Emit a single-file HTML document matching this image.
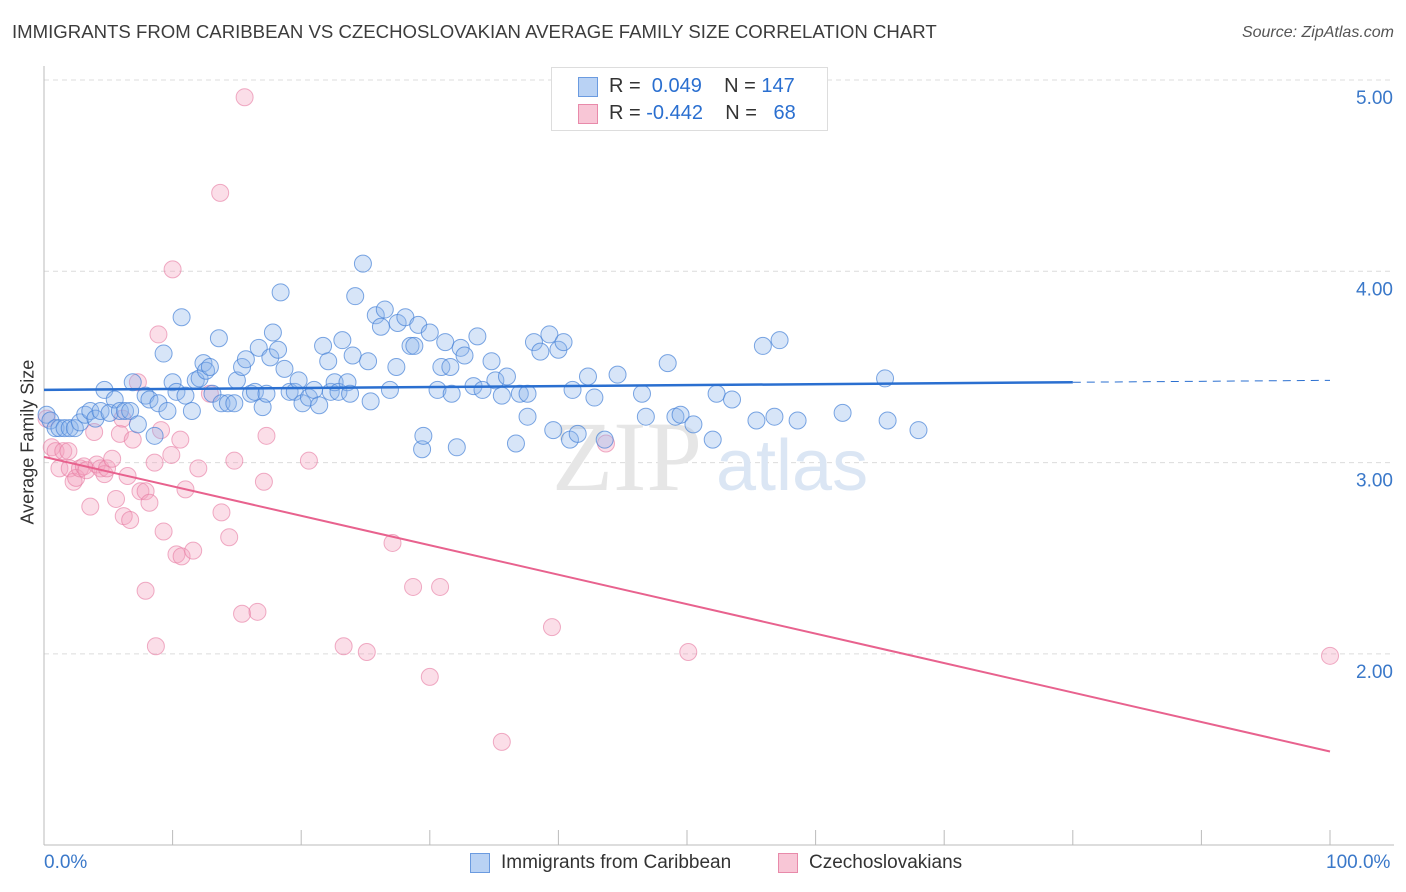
<!DOCTYPE html>
<html><head><meta charset="utf-8"><style>
body{margin:0;background:#fff;font-family:"Liberation Sans",sans-serif;}
#wrap{position:relative;width:1406px;height:892px;overflow:hidden}
.t{position:absolute;white-space:nowrap}
</style></head><body>
<div id="wrap">
<div class="t" style="left:12px;top:21px;font-size:18.6px;color:#3c3c3c">IMMIGRANTS FROM CARIBBEAN VS CZECHOSLOVAKIAN AVERAGE FAMILY SIZE CORRELATION CHART</div>
<div class="t" style="right:12px;top:24px;font-size:16px;color:#555;font-style:italic">Source: ZipAtlas.com</div>
<svg id="svg" width="1406" height="892" style="position:absolute;left:0;top:0"></svg>
</div>
<script>
const blueX=[0.2,0.5,0.9,1.2,1.6,2.0,2.4,2.8,3.2,3.6,4.0,4.4,4.7,5.1,5.5,5.9,6.3,6.7,6.9,7.3,7.9,8.2,8.6,8.9,9.3,9.6,10.0,10.3,10.7,11.0,11.5,11.8,12.1,12.4,12.6,12.9,13.1,13.6,13.8,14.3,14.8,15.0,15.4,15.7,16.1,16.4,16.7,17.0,17.3,17.6,17.8,18.2,18.4,18.7,19.1,19.5,19.8,20.1,20.6,21.0,21.4,21.7,22.1,22.3,22.6,22.9,23.2,23.6,23.8,24.0,24.2,24.8,25.2,25.4,25.8,26.2,26.5,26.9,27.4,27.5,28.1,28.5,28.8,29.1,29.4,29.5,30.0,30.6,30.9,31.2,31.6,31.7,32.1,32.4,32.7,33.4,33.7,34.1,34.8,35.1,35.6,36.0,36.7,37.0,37.6,37.6,38.1,38.6,39.3,39.6,40.0,40.4,40.9,41.1,41.5,42.3,42.8,43.6,44.6,46.5,46.8,48.5,49.1,49.5,50.5,52.0,52.3,53.5,55.4,55.9,56.8,57.2,58.6,62.1,65.4,65.6,68.0];
const blueY=[3.25,3.22,3.18,3.18,3.18,3.18,3.18,3.21,3.25,3.27,3.23,3.27,3.38,3.26,3.33,3.27,3.27,3.27,3.42,3.20,3.35,3.33,3.14,3.31,3.57,3.27,3.42,3.37,3.76,3.35,3.27,3.43,3.44,3.52,3.48,3.50,3.36,3.65,3.31,3.31,3.31,3.43,3.50,3.54,3.36,3.37,3.60,3.29,3.36,3.55,3.68,3.59,3.89,3.49,3.37,3.37,3.43,3.31,3.34,3.38,3.30,3.61,3.53,3.37,3.42,3.37,3.64,3.42,3.36,3.56,3.87,4.04,3.53,3.32,3.77,3.71,3.80,3.38,3.50,3.73,3.76,3.61,3.61,3.72,3.07,3.14,3.68,3.38,3.50,3.63,3.50,3.36,3.08,3.60,3.56,3.40,3.66,3.38,3.53,3.43,3.35,3.45,3.10,3.36,3.36,3.24,3.63,3.58,3.67,3.17,3.59,3.63,3.12,3.38,3.15,3.45,3.34,3.12,3.46,3.36,3.24,3.52,3.24,3.25,3.20,3.12,3.36,3.33,3.22,3.61,3.24,3.64,3.22,3.26,3.44,3.22,3.17];
const pinkX=[0.2,0.6,0.9,1.2,1.5,1.9,2.0,2.3,2.5,2.8,3.1,3.3,3.6,3.9,4.1,4.4,4.7,4.9,5.3,5.6,5.9,6.1,6.2,6.5,6.7,6.9,7.3,7.5,7.9,7.9,8.2,8.6,8.7,8.9,9.1,9.3,9.9,10.0,10.3,10.6,10.7,11.0,11.6,12.0,12.9,13.7,13.8,14.4,14.8,15.4,15.6,16.6,17.1,17.3,20.6,23.3,25.1,27.1,28.7,30.0,30.8,35.6,39.5,43.7,50.1,100];
const pinkY=[3.23,3.08,3.06,2.97,3.06,3.06,2.97,2.90,2.92,2.97,2.98,2.96,2.77,3.16,2.99,2.97,2.94,2.97,3.02,2.81,3.15,3.23,2.72,2.93,2.70,3.12,3.42,2.85,2.85,2.33,2.79,3.00,2.04,3.67,3.17,2.64,3.04,4.01,2.52,3.12,2.51,2.86,2.54,2.97,3.36,4.41,2.74,2.61,3.01,2.21,4.91,2.22,2.90,3.14,3.01,2.04,2.01,2.58,2.35,1.88,2.35,1.54,2.14,3.10,2.01,1.99];
const blueTrend=[3.38,3.43]; // y at x=0, x=100
const pinkTrend=[3.03,1.49];
const yTicks=[2,3,4,5];
const yTickLabels=["2.00","3.00","4.00","5.00"];
const xTicks=[0,10,20,30,40,50,60,70,80,90,100];

const X0=44,XS=12.86,Y5=80,YS=191.3;
const sx=v=>X0+v*XS, sy=v=>Y5+(5-v)*YS;
const svg=document.getElementById('svg');
const NS='http://www.w3.org/2000/svg';
function mk(tag,attrs){const e=document.createElementNS(NS,tag);for(const k in attrs)e.setAttribute(k,attrs[k]);svg.appendChild(e);return e;}

yTicks.forEach((t,i)=>{
 const g=mk('line',{x1:44,x2:1394,y1:sy(t),y2:sy(t),stroke:'#dcdcdc','stroke-dasharray':'5,4','stroke-width':1});
 
 
 const tx=mk('text',{x:1393,y:sy(t)+24,'text-anchor':'end','font-size':19,fill:'#3a78c9','font-family':'Liberation Sans, sans-serif'});
 tx.textContent=yTickLabels[i];
 
 
});
const ax=mk('line',{x1:44,x2:44,y1:66,y2:845,stroke:'#bbb'});


const bx=mk('line',{x1:44,x2:1394,y1:845,y2:845,stroke:'#bbb'});


xTicks.forEach(t=>{
 const l=mk('line',{x1:sx(t),x2:sx(t),y1:845,y2:830,stroke:'#bbb'});
 
 
});
const wm=mk('text',{x:552,y:490,'font-size':100,fill:'#e6e6e6','font-family':'Liberation Serif, serif'});
wm.textContent='ZIP';


const wm2=mk('text',{x:716,y:490,'font-size':72,fill:'#dbe6f4','font-family':'Liberation Sans, sans-serif'});
wm2.textContent='atlas';



pinkX.forEach((x,i)=>{
 const c=mk('circle',{cx:sx(x),cy:sy(pinkY[i]),r:8.5,fill:'rgba(244,160,188,0.35)',stroke:'rgba(230,120,160,0.6)','stroke-width':1});
 
 
});
blueX.forEach((x,i)=>{
 const c=mk('circle',{cx:sx(x),cy:sy(blueY[i]),r:8.5,fill:'rgba(140,180,235,0.35)',stroke:'rgba(70,130,215,0.7)','stroke-width':1});
 
 
});
const by=x=>blueTrend[0]+(blueTrend[1]-blueTrend[0])*x/100;
const bt=mk('line',{x1:sx(0),y1:sy(by(0)),x2:sx(80),y2:sy(by(80)),stroke:'#2a6fd0','stroke-width':2.5});


const bd=mk('line',{x1:sx(80),y1:sy(by(80)),x2:sx(100),y2:sy(by(100)),stroke:'#2a6fd0','stroke-width':1,'stroke-dasharray':'8,6'});


const pt=mk('line',{x1:sx(0),y1:sy(pinkTrend[0]),x2:sx(100),y2:sy(pinkTrend[1]),stroke:'#e8628e','stroke-width':2});


</script>
<div class="t" style="left:-42px;top:444px;font-size:18px;color:#333;transform:rotate(-90deg);width:140px;text-align:center">Average Family Size</div>
<div class="t" style="left:44px;top:852px;font-size:19px;color:#3a78c9">0.0%</div>
<div class="t" style="left:1326px;top:852px;font-size:19px;color:#3a78c9">100.0%</div>
<div style="position:absolute;left:551px;top:67px;width:275px;height:62px;border:1px solid #ddd;background:#fff;font-size:20px;color:#333">
 <div style="position:absolute;left:26px;top:9px;width:18px;height:18px;background:#b9d2f4;border:1px solid #6b9be0"></div>
 <div class="t" style="left:57px;top:7px">R = &nbsp;<span style="color:#2a6fd0">0.049</span>&nbsp;&nbsp;&nbsp; N = <span style="color:#2a6fd0">147</span></div>
 <div style="position:absolute;left:26px;top:36px;width:18px;height:18px;background:#f8c6d6;border:1px solid #e88aaa"></div>
 <div class="t" style="left:57px;top:34px">R = <span style="color:#2a6fd0">-0.442</span>&nbsp;&nbsp;&nbsp; N = &nbsp;&nbsp;<span style="color:#2a6fd0">68</span></div>
</div>
<div style="position:absolute;left:470px;top:852px;font-size:19px;color:#333">
 <div style="position:absolute;left:0;top:1px;width:18px;height:18px;background:#b9d2f4;border:1px solid #6b9be0"></div>
 <div class="t" style="left:31px;top:0">Immigrants from Caribbean</div>
 <div style="position:absolute;left:308px;top:1px;width:18px;height:18px;background:#f8c6d6;border:1px solid #e88aaa"></div>
 <div class="t" style="left:339px;top:0">Czechoslovakians</div>
</div>
</body></html>
